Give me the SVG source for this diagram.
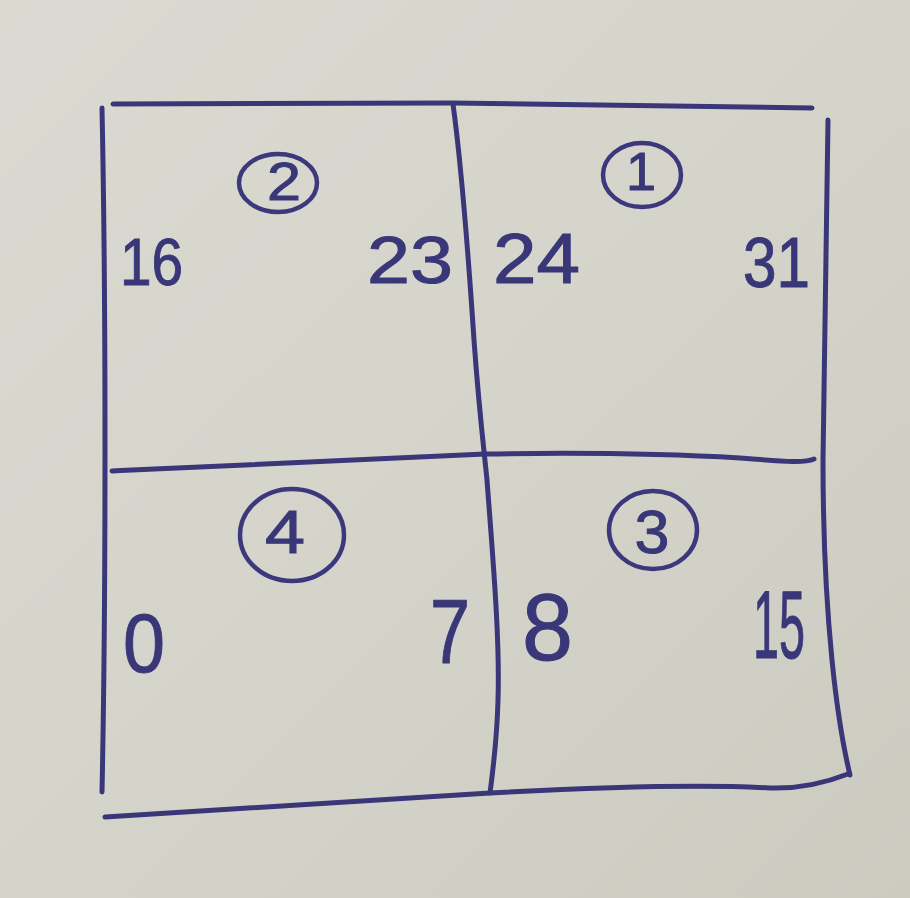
<svg xmlns="http://www.w3.org/2000/svg" width="910" height="898" viewBox="0 0 910 898">
  <defs>
    <linearGradient id="paper" x1="0" y1="0" x2="1" y2="1">
      <stop offset="0" stop-color="#dbdad2"/>
      <stop offset="0.5" stop-color="#d5d4cb"/>
      <stop offset="1" stop-color="#cccbc0"/>
    </linearGradient>
    <style>
      .ink { fill: none; stroke: #393778; stroke-width: 5; stroke-linecap: round; stroke-linejoin: round; }
      .ring { fill: none; stroke: #3b397c; stroke-width: 4.5; }
      .num { font-family: "Liberation Sans", Arial, sans-serif; fill: #393778; stroke: #393778; stroke-width: 1; }
    </style>
  </defs>
  <rect width="910" height="898" fill="url(#paper)"/>

  <g id="grid-lines">
    <path class="ink" d="M113,104 L453,103 L812,108"/>
    <path class="ink" d="M102,108 C106,300 106,600 102,792"/>
    <path class="ink" d="M453,104 C462,170 468,250 474,340 C479,410 484,450 487,480 C493,560 500,640 498,700 C497,740 493,770 490,793"/>
    <path class="ink" d="M112,471 C200,467 284,463 485,454 C600,452 672,454 740,458 C790,462 805,463 814,459"/>
    <path class="ink" d="M828,120 C826,300 823,400 823,460 C823,540 826,600 832,660 C838,720 844,750 850,775"/>
    <path class="ink" d="M105,817 C200,811 300,805 490,793 C600,787 700,784 770,788 C800,789 825,783 848,774"/>
  </g>

  <g id="cell-2">
    <ellipse class="ring" cx="278" cy="183" rx="39" ry="29"/>
    <text class="num" x="284" y="200" font-size="54" text-anchor="middle" textLength="34" lengthAdjust="spacingAndGlyphs">2</text>
    <text class="num" x="120" y="285" font-size="66" textLength="63" lengthAdjust="spacingAndGlyphs">16</text>
    <text class="num" x="367" y="283" font-size="66" textLength="86" lengthAdjust="spacingAndGlyphs">23</text>
  </g>

  <g id="cell-1">
    <ellipse class="ring" cx="642" cy="175" rx="39" ry="32"/>
    <text class="num" x="641" y="190" font-size="54" text-anchor="middle">1</text>
    <text class="num" x="493" y="283" font-size="70" textLength="87" lengthAdjust="spacingAndGlyphs">24</text>
    <text class="num" x="743" y="287" font-size="70" textLength="67" lengthAdjust="spacingAndGlyphs">31</text>
  </g>

  <g id="cell-4">
    <ellipse class="ring" cx="292" cy="535" rx="52" ry="46"/>
    <text class="num" x="285" y="553" font-size="62" text-anchor="middle" textLength="40" lengthAdjust="spacingAndGlyphs">4</text>
    <text class="num" x="123" y="672" font-size="84" textLength="42" lengthAdjust="spacingAndGlyphs">0</text>
    <text class="num" x="430" y="663" font-size="90" textLength="40" lengthAdjust="spacingAndGlyphs">7</text>
  </g>

  <g id="cell-3">
    <ellipse class="ring" cx="653" cy="530" rx="44" ry="39"/>
    <text class="num" x="652" y="553" font-size="62" text-anchor="middle" textLength="35" lengthAdjust="spacingAndGlyphs">3</text>
    <text class="num" x="522" y="660" font-size="94" textLength="51" lengthAdjust="spacingAndGlyphs">8</text>
    <text class="num" x="753" y="658" font-size="96" textLength="52" lengthAdjust="spacingAndGlyphs">15</text>
  </g>
</svg>
